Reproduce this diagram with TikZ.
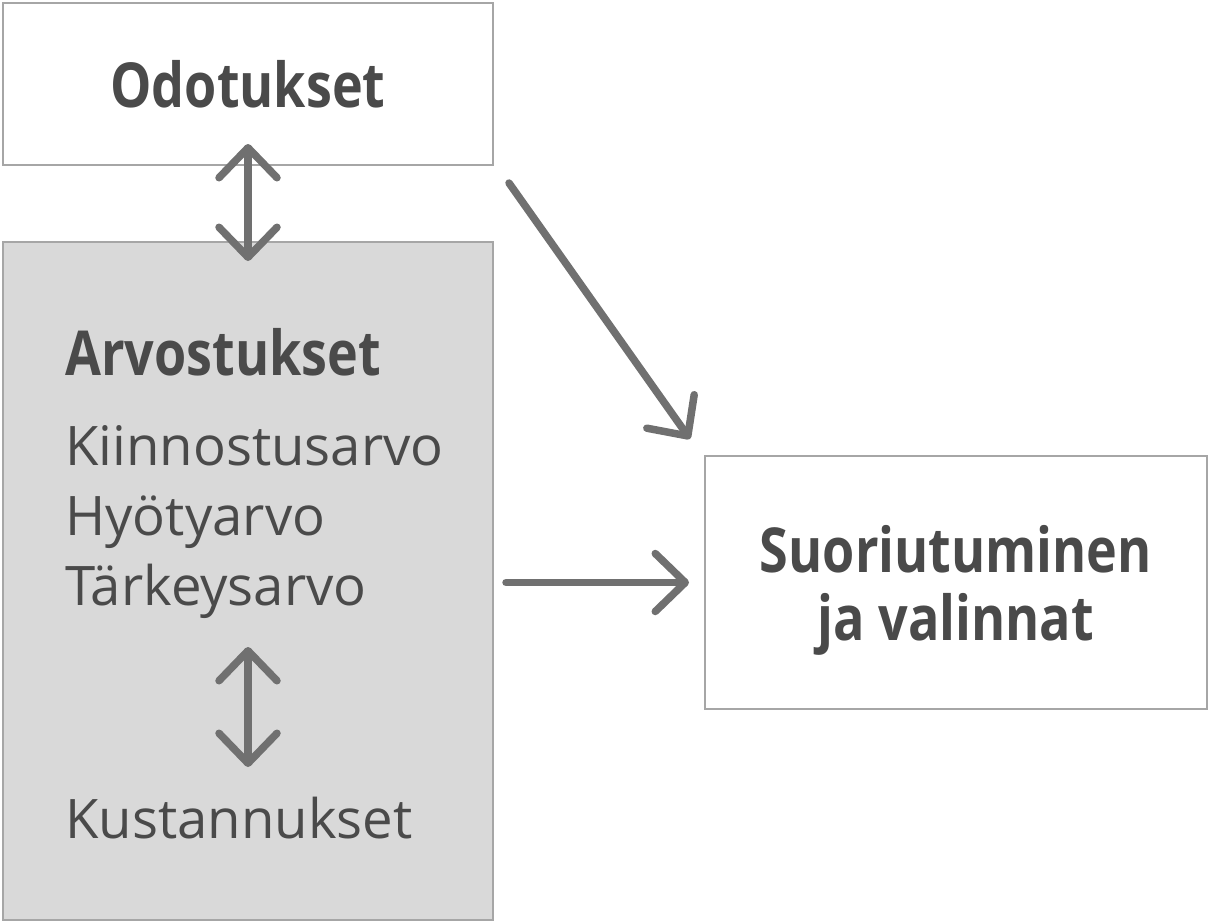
\documentclass[tikz,border=0pt]{standalone}
\usepackage{fontspec}
\setmainfont{Open Sans}
\newfontfamily\headfont[FakeStretch=0.84]{Open Sans}
\usetikzlibrary{arrows.meta}
\definecolor{boxgray}{HTML}{A6A6A6}
\definecolor{fillgray}{HTML}{D9D9D9}
\definecolor{arrowgray}{HTML}{707070}
\definecolor{txtgray}{HTML}{4A4A4A}
\begin{document}
\begin{tikzpicture}[x=1pt,y=-1pt,
  box/.style={draw=boxgray, line width=2pt, inner sep=0pt},
  barb/.tip={Straight Barb[length=30pt,width=58pt,line cap=round,line join=round]},
  link/.style={draw=arrowgray, line width=7.5pt, line cap=round, -barb},
  both/.style={draw=arrowgray, line width=7.5pt, line cap=round, barb-barb},
  head/.style={font=\headfont\bfseries\fontsize{62}{68}\selectfont, text=txtgray},
  body/.style={font=\fontsize{54.5}{60}\selectfont, text=txtgray, inner sep=0pt}]
\useasboundingbox (0,0) rectangle (1209,923);
% boxes
\node[box, head, minimum width=490pt, minimum height=162pt] (odo) at (248,84) {Odotukset};
\node[box, fill=fillgray, minimum width=490pt, minimum height=678pt] (arvo) at (248,581) {};
\node[box, minimum width=502pt, minimum height=253pt] (suo) at (956,582.5) {};
\node[head, inner sep=0pt, align=center] (suotxt) at (956,590.5) {Suoriutuminen\\ja valinnat};
% texts inside gray box
\node[head, inner sep=0pt, anchor=base west] (ar) at (65,375) {Arvostukset};
\node[body, anchor=base west] (l1) at (65,465) {Kiinnostusarvo};
\node[body, anchor=base west] (l2) at (65,535) {Hyötyarvo};
\node[body, anchor=base west] (l3) at (65,605) {Tärkeysarvo};
\node[body, anchor=base west] (kust) at (65,838) {Kustannukset};
% connectors
\draw[both] ([yshift=22pt]odo.south) -- ([yshift=-20pt]arvo.north);
\draw[both] ([yshift=-42pt]l3.base -| arvo.north) -- ([yshift=71pt]kust.base -| arvo.north);
\draw[link] ([xshift=12pt]arvo.east |- suo.center) -- ([xshift=-15pt]suo.west);
\draw[link] ([xshift=15pt,yshift=-17pt]odo.south east) -- ([xshift=-14pt,yshift=16pt]suo.north west);
\end{tikzpicture}
\end{document}
